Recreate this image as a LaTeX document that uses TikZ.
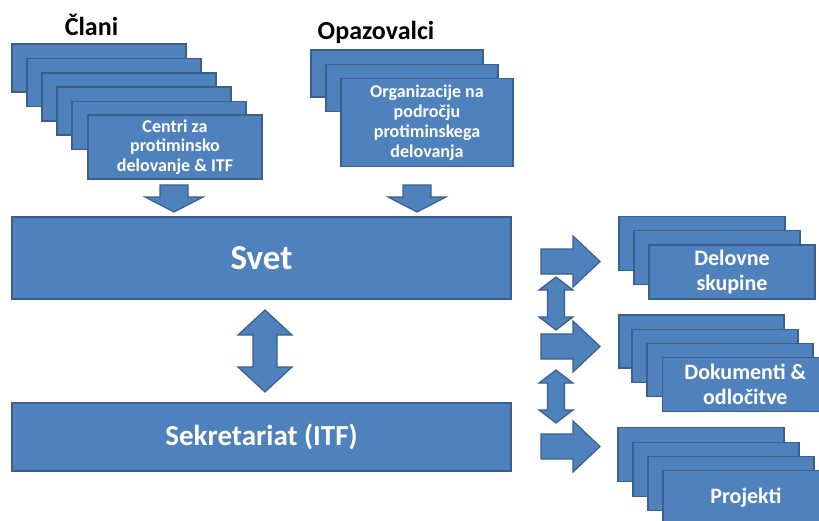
\documentclass[tikz,border=0pt]{standalone}
\usepackage{fontspec}
\setmainfont{Carlito}
\definecolor{cardfill}{HTML}{4F81BD}
\definecolor{cardline}{HTML}{3A5F8C}
\tikzset{
  card/.style={draw=cardline, fill=cardfill, line width=1.2pt, inner sep=0pt,
    outer sep=0pt, anchor=north west, text=white, align=center},
  blockarrow/.style={draw=cardline, fill=cardfill, line width=1.2pt, line join=miter},
  heading/.style={anchor=base, inner sep=0pt, text=black,
    font=\bfseries\fontsize{26}{30}\selectfont},
  pics/rightblock/.style={code={
    \path[blockarrow] (0,-12.5) -- (32,-12.5) -- (32,-25.5) -- (59,0)
      -- (32,25.5) -- (32,12.5) -- (0,12.5) -- cycle;}},
  pics/downblock/.style={code={
    \path[blockarrow] (-14,0) -- (14,0) -- (14,12) -- (29,12) -- (0,27)
      -- (-29,12) -- (-14,12) -- cycle;}},
  % #1 half length, #2 head half width, #3 shaft half width, #4 head length
  pics/vdouble/.style n args={4}{code={
    \path[blockarrow] (0,-#1) -- (#2,-#1+#4) -- (#3,-#1+#4) -- (#3,#1-#4)
      -- (#2,#1-#4) -- (0,#1) -- (-#2,#1-#4) -- (-#3,#1-#4) -- (-#3,-#1+#4)
      -- (-#2,-#1+#4) -- cycle;}},
}
\begin{document}
\begin{tikzpicture}[x=1pt, y=-1pt]
\useasboundingbox (0,0) rectangle (819,520);
\clip (0,0) rectangle (819,520);

% ---- members ----
\node[heading] (clani) at (91.5,35) {Člani};
\foreach \i/\x/\y in {1/12/44, 2/27/58.5, 3/42/73, 4/57/87, 5/72/101.5}
  \node[card, minimum width=174, minimum height=48] (m\i) at (\x,\y) {};
\node[card, minimum width=174, minimum height=64,
      font=\bfseries\fontsize{18}{19.5}\selectfont] (centri) at (88,115)
  {Centri za\\protiminsko\\delovanje \& ITF};

% ---- observers ----
\node[heading] (opaz) at (376,39) {Opazovalci};
\node[card, minimum width=172, minimum height=47] (o1) at (311,50) {};
\node[card, minimum width=172, minimum height=47] (o2) at (326,64.3) {};
\node[card, minimum width=172, minimum height=88,
      font=\bfseries\fontsize{18}{20}\selectfont] (org) at (341,78.3)
  {Organizacije na\\področju\\protiminskega\\delovanja};

% ---- council and secretariat ----
\node[card, minimum width=499, minimum height=82,
      font=\bfseries\fontsize{35}{40}\selectfont] (svet) at (12,217) {Svet};
\node[card, minimum width=499, minimum height=68,
      font=\bfseries\fontsize{29}{34}\selectfont] (sekr) at (12,403)
  {Sekretariat (ITF)};

% ---- working groups ----
\node[card, minimum width=166, minimum height=54] (w1) at (619,216.7) {};
\node[card, minimum width=166, minimum height=54] (w2) at (634,230.7) {};
\node[card, minimum width=166, minimum height=54,
      font=\bfseries\fontsize{22}{25}\selectfont] (delovne) at (649,245)
  {Delovne\\skupine};

% ---- documents ----
\node[card, minimum width=165, minimum height=53] (d1) at (619,315) {};
\node[card, minimum width=166, minimum height=53] (d2) at (632,329.3) {};
\node[card, minimum width=166, minimum height=53] (d3) at (647,343.3) {};
\node[card, minimum width=166, minimum height=54,
      font=\bfseries\fontsize{22}{25}\selectfont] (dok) at (662.3,357.3)
  {Dokumenti \&\\odločitve};

% ---- projects ----
\node[card, minimum width=166, minimum height=54] (p1) at (618,427.7) {};
\node[card, minimum width=166, minimum height=54] (p2) at (633,442.3) {};
\node[card, minimum width=166, minimum height=54] (p3) at (648,456.7) {};
\node[card, minimum width=166, minimum height=54,
      font=\bfseries\fontsize{22}{25}\selectfont] (proj) at (663,470.7)
  {Projekti};

% ---- block arrows ----
\coordinate (downL) at (174,185);
\coordinate (downR) at (417,185);
\pic at (downL) {downblock};
\pic at (downR) {downblock};

\coordinate (mid) at (265,351);
\pic at (mid) {vdouble={41}{27}{12}{25}};

\coordinate (toW) at (541,261.5);
\coordinate (toD) at (541,346.5);
\coordinate (toP) at (541,446.5);
\pic at (toW) {rightblock};
\pic at (toD) {rightblock};
\pic at (toP) {rightblock};

\coordinate (linkA) at (556,303.5);
\coordinate (linkB) at (556,396.5);
\pic at (linkA) {vdouble={26.5}{17}{8.5}{13}};
\pic at (linkB) {vdouble={26.5}{17}{8.5}{13}};
\end{tikzpicture}
\end{document}
